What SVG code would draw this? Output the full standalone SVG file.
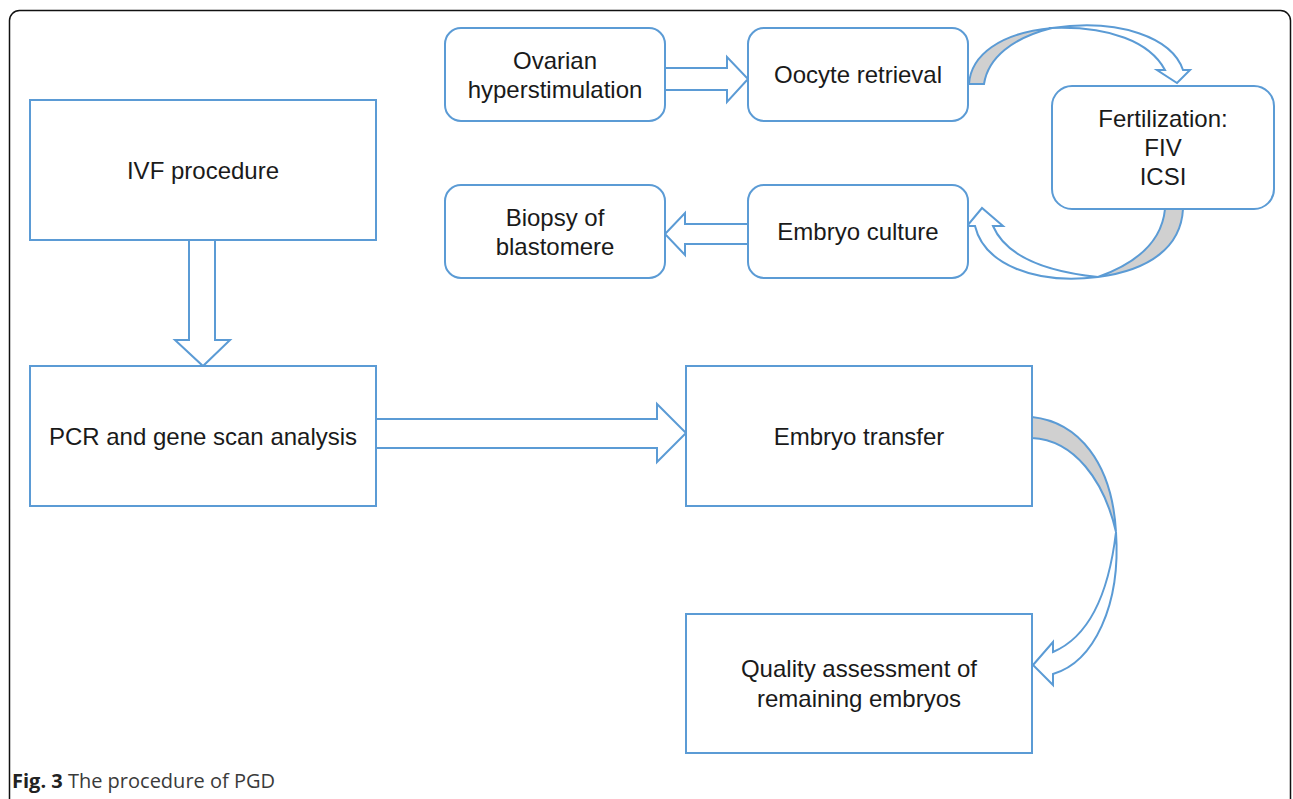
<svg xmlns="http://www.w3.org/2000/svg" width="1293" height="799" viewBox="0 0 1293 799">
<style>
.box{fill:#fff;stroke:#5B9BD5;stroke-width:2}
.arr{fill:#fff;stroke:#5B9BD5;stroke-width:2;stroke-linejoin:miter}
.gray{fill:#D0D0D0;stroke:#5B9BD5;stroke-width:2}
.t{font-family:"Liberation Sans",Arial,sans-serif;font-size:24px;fill:#1a1a1a;text-anchor:middle}
.cap{font-family:"Open Sans","Noto Sans",sans-serif;font-size:20px;fill:#3a3a3a}
</style>
<rect x="9.5" y="10.5" width="1281" height="800" rx="10" fill="#fff" stroke="#111" stroke-width="1.5"/>
<g id="connectors">
<path class="arr" d="M189,240 L215,240 L215,340 L230,340 L203,366 L175,340 L189,340 Z"/>
<path class="arr" d="M376,419 L657,419 L657,404 L686,433 L657,462 L657,448 L376,448 Z"/>
<path class="arr" d="M665,68 L727,68 L727,57 L748,79 L727,102 L727,90 L665,90 Z"/>
<path class="arr" d="M748,224 L685,224 L685,213 L665,234 L685,255 L685,244 L748,244 Z"/>
<path class="gray" d="M969,84 C971,55 1000,33 1052,28 C1012,38 988,58 984,84 Z"/>
<path class="arr" d="M1052,28 C1120,18 1172,38 1183,70 L1190,70 L1177,83 L1157,70 L1165,70 C1150,42 1110,26 1052,28 Z"/>
<path class="gray" d="M1165,209 L1183,209 C1181,247 1150,270 1098,277 C1140,262 1162,240 1165,209 Z"/>
<path class="arr" d="M1098,277 C1035,285 984,264 975,226 L967,226 L982,208 L1003,226 L993,226 C1005,254 1040,271 1098,277 Z"/>
<path class="gray" d="M1032,417 C1078,422 1112,462 1116,532 C1104,480 1074,440 1032,438 Z"/>
<path class="arr" d="M1116,532 C1121,605 1094,662 1053,674 L1053,685 L1033,665 L1053,642 L1053,652 C1086,638 1108,600 1116,532 Z"/>
</g>
<g id="ivf"><rect class="box" x="30" y="100" width="346" height="140"/><text class="t" x="203" y="179">IVF procedure</text></g>
<g id="pcr"><rect class="box" x="30" y="366" width="346" height="140"/><text class="t" x="203" y="445">PCR and gene scan analysis</text></g>
<g id="transfer"><rect class="box" x="686" y="366" width="346" height="140"/><text class="t" x="859" y="445">Embryo transfer</text></g>
<g id="quality"><rect class="box" x="686" y="614" width="346" height="139"/><text class="t" x="859" y="677">Quality assessment of</text><text class="t" x="859" y="707">remaining embryos</text></g>
<g id="ovarian"><rect class="box" x="445" y="28" width="220" height="93" rx="16"/><text class="t" x="555" y="69">Ovarian</text><text class="t" x="555" y="98">hyperstimulation</text></g>
<g id="oocyte"><rect class="box" x="748" y="28" width="220" height="93" rx="16"/><text class="t" x="858" y="83">Oocyte retrieval</text></g>
<g id="fert"><rect class="box" x="1052" y="86" width="222" height="123" rx="20"/><text class="t" x="1163" y="127">Fertilization:</text><text class="t" x="1163" y="156">FIV</text><text class="t" x="1163" y="185">ICSI</text></g>
<g id="biopsy"><rect class="box" x="445" y="185" width="220" height="93" rx="16"/><text class="t" x="555" y="226">Biopsy of</text><text class="t" x="555" y="255">blastomere</text></g>
<g id="culture"><rect class="box" x="748" y="185" width="220" height="93" rx="16"/><text class="t" x="858" y="240">Embryo culture</text></g>
<text class="cap" x="12" y="788"><tspan font-weight="bold" fill="#222">Fig. 3</tspan> The procedure of PGD</text>
</svg>
